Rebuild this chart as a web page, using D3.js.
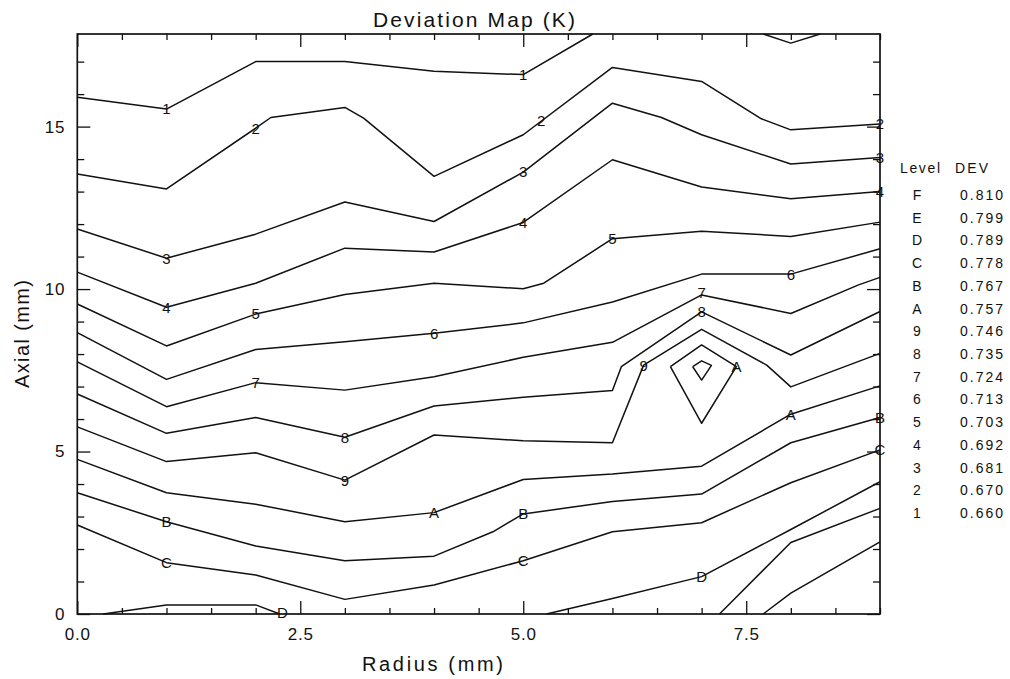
<!DOCTYPE html>
<html>
<head>
<meta charset="UTF-8">
<script src="https://d3js.org/d3.v7.min.js"></script>
<style>
  body { margin: 0; background: #fff; }
  svg text { font-family: "Liberation Sans", Arial, Helvetica, sans-serif; fill: #111; }
  .contour { fill: none; stroke: #111; stroke-width: 1.5; stroke-linejoin: round; }
  .tick line { stroke: #111; stroke-width: 1.3; }
</style>
</head>
<body>
<svg id="chart" width="1010" height="679"></svg>
<script>
  // legend table
  const levelNames = ["F", "E", "D", "C", "B", "A", "9", "8", "7", "6", "5", "4", "3", "2", "1"];
  const levelDev = ["0.810", "0.799", "0.789", "0.778", "0.767", "0.757", "0.746", "0.735",
                    "0.724", "0.713", "0.703", "0.692", "0.681", "0.670", "0.660"];

  // contour lines, [radius, axial]
  const contour1 = [[0, 15.9], [1, 15.54], [2, 17.0], [3, 17.0], [4, 16.7], [5, 16.6], [5.78, 17.85]];
  const contour1b = [[7.69, 17.85], [8, 17.57], [8.33, 17.85]];
  const contour2 = [[0, 13.54], [1, 13.08], [2, 14.95], [2.17, 15.28], [3, 15.59], [3.21, 15.26], [4, 13.47],
                    [5, 14.75], [6, 16.82], [7, 16.39], [7.67, 15.24], [8, 14.9], [9, 15.08]];
  const contour3 = [[0, 11.85], [1, 10.95], [2, 11.69], [3, 12.68], [4, 12.08], [5, 13.6], [6, 15.72],
                    [6.55, 15.28], [7, 14.75], [8, 13.85], [9, 14.05]];
  const contour4 = [[0, 10.52], [1, 9.44], [2, 10.18], [3, 11.26], [4, 11.14], [5, 12.05], [6, 13.98],
                    [7, 13.14], [8, 12.78], [9, 13.0]];
  const contour5 = [[0, 9.54], [1, 8.25], [2, 9.23], [3, 9.83], [4, 10.18], [5, 10.01], [5.23, 10.18],
                    [6, 11.55], [7, 11.78], [8, 11.62], [9, 12.06]];
  const contour6 = [[0, 8.66], [1, 7.22], [2, 8.14], [3, 8.38], [4, 8.64], [5, 8.96], [6, 9.6],
                    [7, 10.46], [8, 10.46], [9, 11.24]];
  const contour7 = [[0, 7.76], [1, 6.38], [2, 7.12], [3, 6.89], [4, 7.3], [5, 7.9], [6, 8.36],
                    [7, 9.82], [8, 9.25], [8.76, 10.13], [9, 10.36]];
  const contour8 = [[0, 6.77], [1, 5.56], [2, 6.05], [3, 5.44], [4, 6.4], [5, 6.67], [6, 6.88],
                    [6.1, 7.61], [7, 9.3], [8, 7.97], [9, 9.31]];
  const contour9 = [[0, 5.76], [1, 4.69], [2, 4.96], [3, 4.12], [4, 5.51], [5, 5.33], [6, 5.27],
                    [6.35, 7.66], [7, 8.76], [7.73, 7.66], [8, 6.99], [9, 8.02]];
  const contourA = [[0, 4.76], [1, 3.73], [2, 3.38], [3, 2.84], [4, 3.12], [5, 4.14], [6, 4.31],
                    [7, 4.55], [8, 6.15], [9, 7.02]];
  const contourAloop = [[6.65, 7.61], [7, 8.28], [7.39, 7.61], [7, 5.87], [6.65, 7.61]];
  const contourBloop = [[6.9, 7.61], [7, 7.79], [7.11, 7.65], [7, 7.2], [6.9, 7.61]];
  const contourB = [[0, 3.73], [1, 2.84], [2, 2.09], [3, 1.64], [4, 1.78], [4.66, 2.53], [5, 3.08],
                    [6, 3.46], [7, 3.69], [8, 5.27], [9, 6.05]];
  const contourC = [[0, 2.74], [1, 1.58], [2, 1.2], [3, 0.45], [4, 0.89], [5, 1.64], [6, 2.53],
                    [7, 2.81], [8, 4.04], [9, 5.05]];
  const contourDleft = [[0.29, 0], [1, 0.28], [2, 0.28], [2.27, 0]];
  const contourD = [[5.26, 0], [6, 0.48], [7, 1.15], [8, 2.6], [9, 4.07]];
  const contourE = [[7.2, 0], [8, 2.2], [9, 3.25]];
  const contourF = [[7.69, 0], [8, 0.64], [9, 2.22]];

  // labels sitting on the lines: [text, radius, axial]
  const contourLabels = [
    ["1", 1, 15.54], ["1", 5, 16.6],
    ["2", 2, 14.95], ["2", 5.2, 15.2], ["2", 9, 15.08],
    ["3", 1, 10.95], ["3", 5, 13.6], ["3", 9, 14.05],
    ["4", 1, 9.44], ["4", 5, 12.05], ["4", 9, 13.0],
    ["5", 2, 9.23], ["5", 6, 11.55],
    ["6", 4, 8.64], ["6", 8, 10.46],
    ["7", 2, 7.12], ["7", 7, 9.9],
    ["8", 3, 5.44], ["8", 7, 9.3],
    ["9", 3, 4.12], ["9", 6.35, 7.66],
    ["A", 4, 3.12], ["A", 7.39, 7.61], ["A", 8, 6.15],
    ["B", 1, 2.84], ["B", 5, 3.08], ["B", 9, 6.05],
    ["C", 1, 1.58], ["C", 5, 1.64], ["C", 9, 5.05],
    ["D", 2.3, 0.05], ["D", 7, 1.15]
  ];

  const xMajor = [0, 2.5, 5, 7.5];
  const yMajor = [0, 5, 10, 15];

  const contours = [contour1, contour1b, contour2, contour3, contour4, contour5, contour6,
    contour7, contour8, contour9, contourA, contourAloop, contourBloop, contourB, contourC,
    contourDleft, contourD, contourE, contourF];

  const svg = d3.select('#chart');
  const x = d3.scaleLinear().domain([0, 9]).range([77.3, 880]);
  const y = d3.scaleLinear().domain([0, 17.85]).range([614, 34]);

  const xMinor = d3.range(0, 9.01, 0.5).filter(v => !xMajor.includes(v));
  const yMinor = d3.range(0, 17.5, 1).filter(v => !yMajor.includes(v));

  // minor ticks, all four sides, pointing in
  const minorLen = 6, majorLen = 13;
  svg.append('g').attr('transform', `translate(0,${y(0)})`)
    .call(d3.axisBottom(x).tickValues(xMinor).tickSize(-minorLen).tickFormat(''));
  svg.append('g').attr('transform', `translate(0,${y(17.85)})`)
    .call(d3.axisTop(x).tickValues(xMinor).tickSize(-minorLen).tickFormat(''));
  svg.append('g').attr('transform', `translate(${x(0)},0)`)
    .call(d3.axisLeft(y).tickValues(yMinor).tickSize(-minorLen - 1).tickFormat(''));
  svg.append('g').attr('transform', `translate(${x(9)},0)`)
    .call(d3.axisRight(y).tickValues(yMinor).tickSize(-minorLen - 1).tickFormat(''));

  // major ticks with labels
  const xAxis = svg.append('g').attr('transform', `translate(0,${y(0)})`)
    .call(d3.axisBottom(x).tickValues(xMajor).tickSize(-majorLen).tickPadding(14)
      .tickFormat(d3.format('.1f')));
  svg.append('g').attr('transform', `translate(0,${y(17.85)})`)
    .call(d3.axisTop(x).tickValues(xMajor).tickSize(-majorLen).tickFormat(''));
  const yAxis = svg.append('g').attr('transform', `translate(${x(0)},0)`)
    .call(d3.axisLeft(y).tickValues(yMajor).tickSize(-majorLen).tickPadding(12)
      .tickFormat(d3.format('d')));
  svg.append('g').attr('transform', `translate(${x(9)},0)`)
    .call(d3.axisRight(y).tickValues(yMajor).tickSize(-majorLen).tickFormat(''));

  svg.selectAll('.domain').remove();
  [xAxis, yAxis].forEach(a => a.selectAll('text')
    .style('font-size', '17px').style('letter-spacing', '0.8px').attr('fill', '#111'));

  // frame
  svg.append('rect')
    .attr('x', x(0)).attr('y', y(17.85))
    .attr('width', x(9) - x(0)).attr('height', y(0) - y(17.85))
    .attr('fill', 'none').attr('stroke', '#111').attr('stroke-width', 1.7);

  // contour lines
  const line = d3.line().x(d => x(d[0])).y(d => y(d[1]));
  svg.append('g').selectAll('path')
    .data(contours)
    .join('path')
    .attr('class', 'contour')
    .attr('d', line);

  // labels on the lines
  svg.append('g').selectAll('text')
    .data(contourLabels)
    .join('text')
    .attr('x', d => x(d[1]))
    .attr('y', d => y(d[2]))
    .attr('dy', '0.36em')
    .attr('text-anchor', 'middle')
    .style('font-size', '15px')
    .text(d => d[0]);

  // title and axis titles
  svg.append('text')
    .attr('x', 373).attr('y', 27)
    .attr('textLength', 202).attr('lengthAdjust', 'spacing')
    .style('font-size', '21px')
    .text('Deviation Map (K)');

  svg.append('text')
    .attr('x', 362).attr('y', 671)
    .attr('textLength', 141).attr('lengthAdjust', 'spacing')
    .style('font-size', '20px')
    .text('Radius (mm)');

  svg.append('text')
    .attr('transform', 'translate(28.5,388) rotate(-90)')
    .attr('textLength', 108).attr('lengthAdjust', 'spacing')
    .style('font-size', '20px')
    .text('Axial (mm)');

  // level legend
  const legend = svg.append('g');
  legend.append('text').attr('x', 900).attr('y', 173).style('font-size', '14px')
    .attr('textLength', 40).attr('lengthAdjust', 'spacing').text('Level');
  legend.append('text').attr('x', 955).attr('y', 173).style('font-size', '14px')
    .attr('textLength', 33).attr('lengthAdjust', 'spacing').text('DEV');
  const rowY = d3.scaleLinear().domain([0, levelNames.length - 1]).range([200, 518]);
  legend.selectAll('text.lvl')
    .data(levelNames)
    .join('text')
    .attr('class', 'lvl')
    .attr('x', 917).attr('y', (d, i) => rowY(i))
    .attr('text-anchor', 'middle')
    .style('font-size', '14px')
    .text(d => d);
  legend.selectAll('text.dev')
    .data(levelDev)
    .join('text')
    .attr('class', 'dev')
    .attr('x', 960).attr('y', (d, i) => rowY(i))
    .attr('textLength', 43).attr('lengthAdjust', 'spacing')
    .style('font-size', '14px')
    .text(d => d);
</script>
</body>
</html>
